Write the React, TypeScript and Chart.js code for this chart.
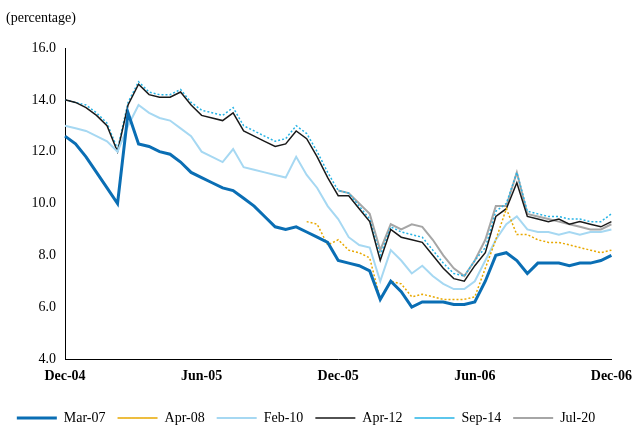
import React, { useEffect, useRef } from 'react';
import Chart from 'chart.js/auto';

// biweekly points, Dec-04 .. Dec-06
const tickLabels: Record<number, string> = { 0: 'Dec-04', 13: 'Jun-05', 26: 'Dec-05', 39: 'Jun-06', 52: 'Dec-06' };
const categories = Array.from({ length: 53 }, (_, i) => tickLabels[i] ?? '');

const mar07 = [12.6, 12.3, 11.8, 11.2, 10.6, 10.0, 13.5, 12.3, 12.2, 12.0, 11.9, 11.6, 11.2, 11.0, 10.8, 10.6, 10.5, 10.2, 9.9, 9.5, 9.1, 9.0, 9.1, 8.9, 8.7, 8.5, 7.8, 7.7, 7.6, 7.4, 6.3, 7.0, 6.6, 6.0, 6.2, 6.2, 6.2, 6.1, 6.1, 6.2, 7.0, 8.0, 8.1, 7.8, 7.3, 7.7, 7.7, 7.7, 7.6, 7.7, 7.7, 7.8, 8.0];
const apr08 = [null, null, null, null, null, null, null, null, null, null, null, null, null, null, null, null, null, null, null, null, null, null, null, 9.3, 9.2, 8.4, 8.6, 8.2, 8.1, 7.9, 6.3, 7.0, 6.9, 6.4, 6.5, 6.4, 6.3, 6.3, 6.3, 6.4, 7.5, 8.6, 9.8, 8.8, 8.8, 8.6, 8.5, 8.5, 8.4, 8.3, 8.2, 8.1, 8.2];
const feb10 = [13.0, 12.9, 12.8, 12.6, 12.4, 12.0, 13.0, 13.8, 13.5, 13.3, 13.2, 12.9, 12.6, 12.0, 11.8, 11.6, 12.1, 11.4, 11.3, 11.2, 11.1, 11.0, 11.8, 11.1, 10.6, 9.9, 9.4, 8.7, 8.4, 8.3, 7.0, 8.2, 7.8, 7.3, 7.6, 7.2, 6.9, 6.7, 6.7, 7.0, 7.8, 8.6, 9.2, 9.5, 9.0, 8.9, 8.9, 8.8, 8.9, 8.8, 8.9, 8.9, 9.0];
const apr12 = [14.0, 13.9, 13.7, 13.4, 13.0, 12.0, 13.8, 14.6, 14.2, 14.1, 14.1, 14.3, 13.8, 13.4, 13.3, 13.2, 13.5, 12.8, 12.6, 12.4, 12.2, 12.3, 12.8, 12.5, 11.8, 11.0, 10.3, 10.3, 9.8, 9.3, 7.8, 9.0, 8.7, 8.6, 8.5, 8.0, 7.5, 7.1, 7.0, 7.6, 8.1, 9.5, 9.8, 10.8, 9.5, 9.4, 9.3, 9.4, 9.2, 9.3, 9.2, 9.1, 9.3];
const sep14 = [14.0, 13.9, 13.8, 13.5, 13.1, 12.1, 13.9, 14.7, 14.3, 14.2, 14.2, 14.4, 13.9, 13.6, 13.5, 13.4, 13.7, 13.0, 12.8, 12.6, 12.4, 12.5, 13.0, 12.7, 12.0, 11.2, 10.5, 10.4, 9.9, 9.4, 8.0, 9.1, 8.9, 8.8, 8.7, 8.2, 7.7, 7.3, 7.2, 7.8, 8.3, 9.7, 10.0, 11.2, 9.7, 9.6, 9.5, 9.5, 9.4, 9.4, 9.3, 9.3, 9.6];
const jul20 = [null, null, null, null, null, null, null, null, null, null, null, null, null, null, null, null, null, null, null, null, null, null, null, null, null, null, 10.5, 10.4, 10.0, 9.6, 8.2, 9.2, 9.0, 9.2, 9.1, 8.6, 8.0, 7.5, 7.2, 7.8, 8.6, 9.9, 9.9, 11.2, 9.6, 9.5, 9.4, 9.3, 9.2, 9.1, 9.0, 9.0, 9.2];

const seriesNames = ['Mar-07', 'Apr-08', 'Feb-10', 'Apr-12', 'Sep-14', 'Jul-20'];
const seriesData = [mar07, apr08, feb10, apr12, sep14, jul20];
const seriesColors = ['#0a6eb4', '#e8a800', '#a6d8f2', '#1a1a1a', '#27b4e6', '#a6a6a6'];
const seriesWidths = [3, 1.5, 2, 1.5, 1.5, 2];
const seriesDash = [[], [2, 2], [], [], [2, 2], []];

export default function App() {
  const ref = useRef<HTMLCanvasElement>(null);
  useEffect(() => {
    document.body.style.margin = '0';
    if (!ref.current) return;
    const font = { family: 'Liberation Serif', size: 14 };
    const chart = new Chart(ref.current, {
      type: 'line',
      data: {
        labels: categories,
        datasets: seriesNames.map((n, k) => ({
          label: n,
          data: seriesData[k],
          borderColor: seriesColors[k],
          backgroundColor: 'transparent',
          borderWidth: seriesWidths[k],
          borderDash: seriesDash[k],
          pointRadius: 0,
          tension: 0,
          spanGaps: false,
        })),
      },
      options: {
        animation: false,
        responsive: false,
        layout: { padding: { top: 48, right: 23, left: 0, bottom: 0 } },
        plugins: {
          tooltip: { enabled: false },
          legend: {
            position: 'bottom',
            labels: { font, color: '#000', boxWidth: 40, boxHeight: 0, padding: 12 },
          },
        },
        scales: {
          x: {
            grid: { display: false, tickLength: 6 },
            border: { color: '#000' },
            afterFit: (s: any) => { s.height = 40; },
            ticks: { autoSkip: false, maxRotation: 0, font: { ...font, weight: 'bold' }, color: '#000', callback: (_v: any, i: number) => categories[i] },
          },
          y: {
            min: 4, max: 16,
            grid: { display: false, tickLength: 6 },
            border: { color: '#000' },
            afterFit: (s: any) => { s.width = 65; },
            ticks: { stepSize: 2, font, color: '#000', callback: (v: any) => Number(v).toFixed(1) },
          },
        },
      } as any,
      plugins: [{
        id: 'unit',
        afterDraw(c: any) {
          const ctx = c.ctx;
          ctx.save();
          ctx.font = '14px "Liberation Serif"';
          ctx.fillStyle = '#000';
          ctx.textBaseline = 'middle';
          ctx.fillText('(percentage)', 6, 18);
          ctx.restore();
        },
      }],
    });
    return () => chart.destroy();
  }, []);
  return <canvas ref={ref} width={635} height={435} />;
}
